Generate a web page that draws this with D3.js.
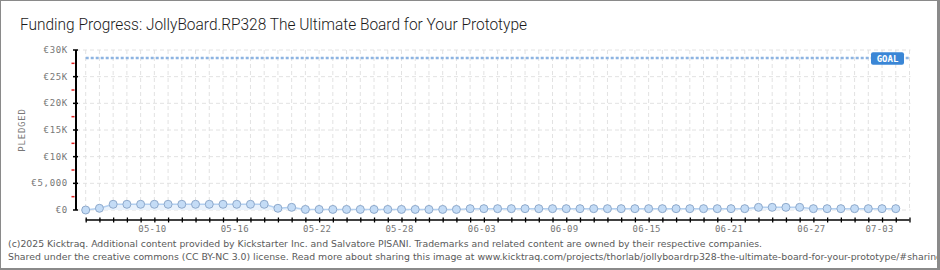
<!DOCTYPE html>
<html lang="en">
<head>
    <meta charset="UTF-8">
    <title>Funding Progress</title>
    <script src="https://d3js.org/d3.v7.min.js"></script>
    <style>
        body {
            margin: 0;
            background: white;
        }

        svg {
            display: block;
        }

        .grid line {
            stroke: #e2e2e2;
            stroke-dasharray: 4, 3;
        }

        .tick-label {
            font-family: 'DejaVu Sans Mono', monospace;
            fill: #777;
        }
    </style>
</head>
<body>
    <svg width="940" height="270"></svg>

    <script>
        // pledged total per day, 2025-05-05 .. 2025-07-03 (euros)
        const startDate = new Date(2025, 4, 5);
        const pledged = [
            0, 320, 1070, 1070, 1070, 1070, 1070, 1070, 1070, 1070, 1070, 1070, 1070, 1070,
            320, 500, 110, 110, 110, 110, 110, 110, 110, 110, 110, 110, 110, 110,
            250, 250, 250, 250, 250, 250, 250, 250, 250, 250, 250, 250, 250, 250,
            250, 250, 250, 250, 250, 250, 250,
            500, 500, 500, 500,
            250, 250, 250, 250, 250, 250, 250
        ];
        const goal = 28500;
        const yTicks = [0, 5000, 10000, 15000, 20000, 25000, 30000];
        const yTickLabels = ['€0', '€5,000', '€10K', '€15K', '€20K', '€25K', '€30K'];
        const xTickLabels = ['05-10', '05-16', '05-22', '05-28', '06-03', '06-09', '06-15', '06-21', '06-27', '07-03'];

        const days = pledged.map((v, i) => ({ date: d3.timeDay.offset(startDate, i), value: v }));

        const svg = d3.select('svg');
        const axisX = 76, plotLeft = 85.7, plotRight = 909.5, plotTop = 50, plotBottom = 210;

        const x = d3.scaleTime()
            .domain([startDate, d3.timeDay.offset(startDate, pledged.length)])
            .range([plotLeft, plotRight]);
        const y = d3.scaleLinear().domain([0, 30000]).range([plotBottom, plotTop]);

        // border
        svg.append('rect').attr('x', 0.5).attr('y', 0.5).attr('width', 937).attr('height', 268)
            .attr('fill', 'none').attr('stroke', '#8a8a8a');
        svg.append('rect').attr('x', 0).attr('y', 268).attr('width', 940).attr('height', 2).attr('fill', '#8a8a8a');

        // title
        svg.append('text')
            .attr('x', 20).attr('y', 30)
            .attr('textLength', 507).attr('lengthAdjust', 'spacingAndGlyphs')
            .style('font-family', 'Roboto, sans-serif')
            .style('font-size', '16px')
            .style('font-weight', 300)
            .style('fill', '#1a1a1a')
            .text('Funding Progress: JollyBoard.RP328 The Ultimate Board for Your Prototype');

        // grid
        const grid = svg.append('g').attr('class', 'grid');
        grid.selectAll('.v').data(d3.range(pledged.length + 1)).enter().append('line')
            .attr('x1', i => x(d3.timeDay.offset(startDate, i)))
            .attr('x2', i => x(d3.timeDay.offset(startDate, i)))
            .attr('y1', plotTop).attr('y2', plotBottom);
        grid.selectAll('.h').data(yTicks).enter().append('line')
            .attr('x1', axisX).attr('x2', plotRight + 1)
            .attr('y1', d => y(d)).attr('y2', d => y(d));

        // area + line
        const area = d3.area().x(d => x(d.date)).y0(y(0)).y1(d => y(d.value));
        const line = d3.line().x(d => x(d.date)).y(d => y(d.value));
        svg.append('path').datum(days).attr('d', area).attr('fill', '#e9f2fc');
        svg.append('path').datum(days).attr('d', line)
            .attr('fill', 'none').attr('stroke', '#b4d0f0').attr('stroke-width', 1.5);

        // goal line
        svg.append('line')
            .attr('x1', plotLeft).attr('x2', plotRight + 1)
            .attr('y1', y(goal)).attr('y2', y(goal))
            .attr('stroke', '#8db4e2').attr('stroke-width', 2.5)
            .attr('stroke-dasharray', '3,2');
        const goalTag = svg.append('g').attr('transform', `translate(871,${y(goal) - 5.7})`);
        goalTag.append('rect').attr('width', 33).attr('height', 12.5).attr('rx', 2)
            .attr('fill', '#3a86d6');
        goalTag.append('text').attr('x', 16.5).attr('y', 9.5)
            .attr('text-anchor', 'middle')
            .style('font-family', "'DejaVu Sans Mono', monospace")
            .style('font-size', '9px').style('font-weight', 'bold')
            .style('fill', 'white')
            .text('GOAL');

        // points
        svg.append('g').selectAll('circle').data(days).enter().append('circle')
            .attr('cx', d => x(d.date)).attr('cy', d => y(d.value))
            .attr('r', 4)
            .attr('fill', '#c4dcf6').attr('stroke', '#8ea9cb').attr('stroke-width', 1);

        // y axis
        svg.append('line').attr('x1', axisX).attr('x2', axisX).attr('y1', plotTop).attr('y2', plotBottom)
            .attr('stroke', 'black').attr('stroke-width', 2);
        svg.append('g').selectAll('line').data(yTicks).enter().append('line')
            .attr('x1', axisX - 3).attr('x2', axisX + 2)
            .attr('y1', d => y(d)).attr('y2', d => y(d))
            .attr('stroke', 'black').attr('stroke-width', 1.5);
        svg.append('g').selectAll('line').data(yTicks.slice(1)).enter().append('line')
            .attr('x1', axisX - 4.5).attr('x2', axisX - 1.5)
            .attr('y1', d => y(d - 2500)).attr('y2', d => y(d - 2500))
            .attr('stroke', '#e02020').attr('stroke-width', 1.5);
        svg.append('g').selectAll('text').data(yTicks).enter().append('text')
            .attr('class', 'tick-label')
            .attr('x', 68).attr('y', d => y(d) + 3)
            .attr('text-anchor', 'end')
            .style('font-size', '9px').style('letter-spacing', '0.7px')
            .text((d, i) => yTickLabels[i]);

        svg.append('text')
            .attr('class', 'tick-label')
            .attr('transform', 'translate(24.5,130) rotate(-90)')
            .attr('text-anchor', 'middle')
            .style('font-size', '9px').style('letter-spacing', '0.8px')
            .text('PLEDGED');

        // x axis
        svg.append('line').attr('x1', plotLeft).attr('x2', plotRight).attr('y1', 220).attr('y2', 220)
            .attr('stroke', 'black').attr('stroke-width', 1.5);
        const xAxis = d3.axisBottom(x)
            .ticks(d3.timeDay.every(1))
            .tickSize(5).tickSizeOuter(0).tickFormat('');
        const xg = svg.append('g').attr('transform', 'translate(0,217.5)').call(xAxis);
        xg.select('.domain').remove();
        xg.selectAll('.tick line').attr('stroke', 'black').attr('stroke-width', 1.3);

        svg.append('g').selectAll('text').data(xTickLabels).enter().append('text')
            .attr('class', 'tick-label')
            .attr('x', (d, i) => Math.min(x(d3.timeDay.offset(startDate, 5 + i * 6)) - 2, 879.5))
            .attr('y', 231.5)
            .attr('text-anchor', 'middle')
            .style('font-size', '9px').style('letter-spacing', '0.2px')
            .text(d => d);

        // footer
        const foot = svg.append('g')
            .style('font-family', "'DejaVu Sans Condensed', 'DejaVu Sans', sans-serif")
            .style('font-size', '9.5px').style('fill', '#5a5a5a');
        foot.append('text').attr('x', 8).attr('y', 246.5)
            .attr('textLength', 754).attr('lengthAdjust', 'spacingAndGlyphs')
            .text('(c)2025 Kicktraq. Additional content provided by Kickstarter Inc. and Salvatore PISANI. Trademarks and related content are owned by their respective companies.');
        foot.append('text').attr('x', 8).attr('y', 259.5)
            .attr('textLength', 934).attr('lengthAdjust', 'spacingAndGlyphs')
            .text('Shared under the creative commons (CC BY-NC 3.0) license. Read more about sharing this image at www.kicktraq.com/projects/thorlab/jollyboardrp328-the-ultimate-board-for-your-prototype/#sharing');

        // right border drawn last, over the footer overflow
        svg.append('rect').attr('x', 937).attr('y', 0).attr('width', 3).attr('height', 270).attr('fill', '#8a8a8a');
    </script>
</body>
</html>
